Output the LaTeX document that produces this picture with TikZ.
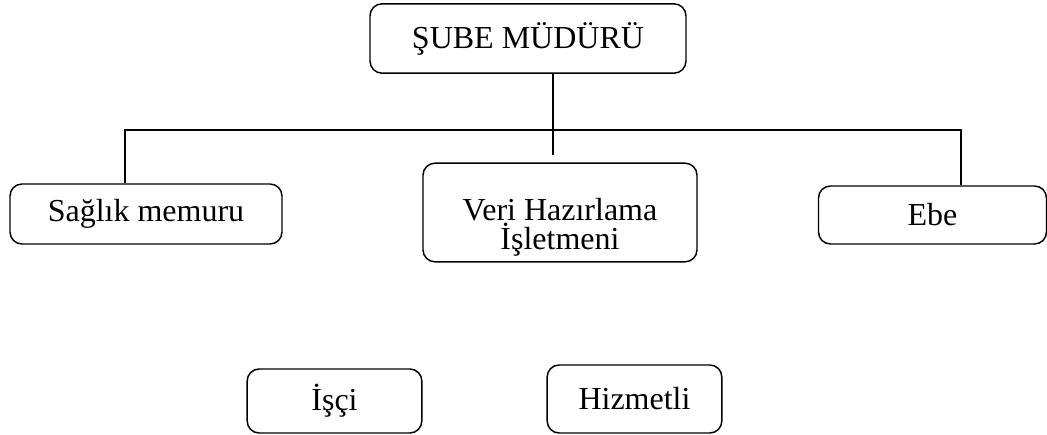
\documentclass[tikz,border=0pt]{standalone}
\usepackage{fontspec}
\setmainfont{Liberation Serif}
\begin{document}
\begin{tikzpicture}[x=0.75pt,y=-0.75pt,
  txt/.style={inner sep=0pt,font=\fontsize{24}{22}\selectfont,align=center},
  unit/.style={txt,draw,rounded corners=9pt,line width=1.1pt},
  link/.style={line width=1.3pt}]
\useasboundingbox (0,0) rectangle (1047,435);
% posts
\node[unit,minimum width=237pt,minimum height=52pt] (sube) at (528,38.5) {ŞUBE MÜDÜRÜ};
\node[unit,minimum width=204pt,minimum height=45pt] (saglik) at (146,214) {Sağlık memuru};
\node[unit,minimum width=205.5pt,minimum height=74pt] (veri) at (560,212.5) {};
\node[txt] (veritext) at (560,227) {Veri Hazırlama\\İşletmeni};
\node[unit,minimum width=171pt,minimum height=43.5pt] (ebe) at (932.5,215) {Ebe};
\node[unit,minimum width=131pt,minimum height=48pt] (isci) at (334.5,401) {İşçi};
\node[unit,minimum width=131pt,minimum height=51pt] (hizmetli) at (634.5,399) {Hizmetli};
% connecting lines
\coordinate (stem) at (553,155);
\coordinate (barL) at (125,130);
\coordinate (barR) at (961,130);
\draw[link] (stem |- sube.south) -- (stem);
\draw[link] (saglik.north -| barL) -- (barL) -- (barR) -- (ebe.north -| barR);
\end{tikzpicture}
\end{document}
